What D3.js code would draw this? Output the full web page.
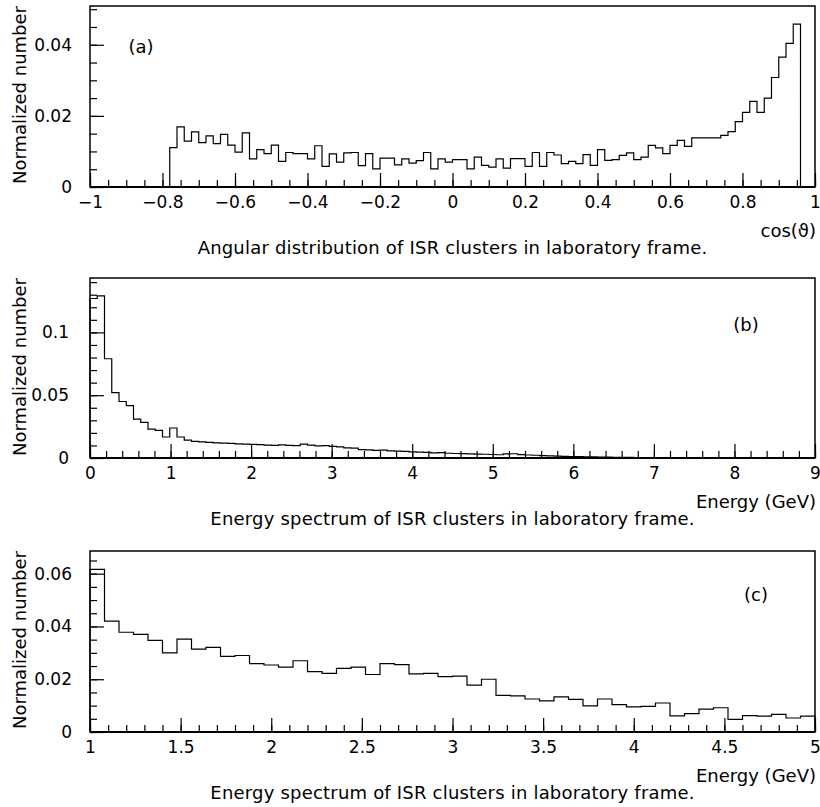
<!DOCTYPE html>
<html>
<head>
<meta charset="utf-8">
<script src="https://cdn.jsdelivr.net/npm/d3@7"></script>
<style>
  body { margin: 0; background: #fff; }
  svg text { font-family: "DejaVu Sans", sans-serif; fill: #000; }
</style>
</head>
<body>
<svg id="chart" width="820" height="807"></svg>
<script>
// (a) angular distribution, bins of 0.02 starting at -0.78
const aBinStart = -0.78, aBinWidth = 0.02;
const aValues = [
  0.0111, 0.0169, 0.0129, 0.0155, 0.0125, 0.0144, 0.0122, 0.0148, 0.0118, 0.0098,
  0.0152, 0.0079, 0.0105, 0.0094, 0.0118, 0.0072, 0.0097, 0.0094, 0.0094, 0.0079,
  0.0116, 0.0058, 0.0093, 0.0070,
  0.0096, 0.0097, 0.0060, 0.0094, 0.0051, 0.0081, 0.0081, 0.0062, 0.0079, 0.0067,
  0.0074, 0.0097, 0.0051, 0.0079, 0.0070, 0.0077, 0.0077, 0.0051, 0.0084, 0.0061,
  0.0056, 0.0079, 0.0053, 0.0080, 0.0080, 0.0058, 0.0097, 0.0058, 0.0097, 0.0090,
  0.0066, 0.0072, 0.0066,
  0.0091, 0.0061, 0.0105, 0.0075, 0.0077, 0.0089, 0.0096, 0.0077, 0.0084, 0.0117,
  0.0110, 0.0094, 0.0117, 0.0131, 0.0114, 0.0138, 0.0138, 0.0138, 0.0138, 0.0145,
  0.0156, 0.0184, 0.0210, 0.0241, 0.0210, 0.0250, 0.0308, 0.0365, 0.0404, 0.0458
];
const aXTicks = [-1, -0.8, -0.6, -0.4, -0.2, 0, 0.2, 0.4, 0.6, 0.8, 1];
const aXLabels = ["\u22121", "\u22120.8", "\u22120.6", "\u22120.4", "\u22120.2", "0", "0.2", "0.4", "0.6", "0.8", "1"];
const aYTicks = [0, 0.02, 0.04];
const aYLabels = ["0", "0.02", "0.04"];

// (b) energy spectrum 0-9 GeV, bins of 0.09
const bBinStart = 0, bBinWidth = 0.09;
const bValues = [
  0.1270, 0.1290, 0.0790, 0.0520, 0.0450, 0.0417, 0.0310, 0.0284, 0.0230, 0.0220,
  0.0167, 0.0239, 0.0167, 0.0142, 0.0133, 0.0128, 0.0124, 0.0121, 0.0119, 0.0116,
  0.0113, 0.0110, 0.0108, 0.0106, 0.0103, 0.0101, 0.0104, 0.0100, 0.0098, 0.0110,
  0.0103, 0.0097, 0.0098, 0.0093, 0.0089, 0.0080, 0.0079, 0.0066, 0.0064, 0.0061,
  0.0063, 0.0056, 0.0055, 0.0052, 0.0049, 0.0047, 0.0044, 0.0041, 0.0042, 0.0038,
  0.0036, 0.0035, 0.0033, 0.0031, 0.0030, 0.0028, 0.0026, 0.0033, 0.0034, 0.0027,
  0.0024, 0.0022, 0.0019, 0.0017, 0.0015, 0.0013, 0.0012, 0.0011, 0.0010, 0.0010,
  0.0008, 0.0007, 0.0006, 0.0005, 0.0005, 0.0004, 0.0004, 0.0003, 0.0003, 0.0002,
  0.0002, 0.0002, 0.0001, 0.0001, 0.0001, 0.0001, 0.0001, 0.0001, 0.0001, 0.0000,
  0.0000, 0.0000, 0.0000, 0.0000, 0.0000, 0.0000, 0.0000, 0.0000, 0.0000, 0.0000
];
const bXTicks = [0, 1, 2, 3, 4, 5, 6, 7, 8, 9];
const bXLabels = ["0", "1", "2", "3", "4", "5", "6", "7", "8", "9"];
const bYTicks = [0, 0.05, 0.1];
const bYLabels = ["0", "0.05", "0.1"];

// (c) energy spectrum 1-5 GeV, bins of 0.08
const cBinStart = 1, cBinWidth = 0.08;
const cValues = [
  0.0616, 0.0420, 0.0378, 0.0370, 0.0347, 0.0300, 0.0352, 0.0314, 0.0321, 0.0287,
  0.0290, 0.0259, 0.0254, 0.0246, 0.0270, 0.0229, 0.0222, 0.0241, 0.0246, 0.0218,
  0.0259, 0.0255, 0.0220, 0.0222, 0.0210, 0.0212, 0.0178, 0.0200, 0.0139, 0.0137,
  0.0125, 0.0118, 0.0133, 0.0124, 0.0099, 0.0125, 0.0104, 0.0095, 0.0097, 0.0110,
  0.0061, 0.0070, 0.0087, 0.0092, 0.0048, 0.0062, 0.0060, 0.0067, 0.0053, 0.0060
];
const cXTicks = [1, 1.5, 2, 2.5, 3, 3.5, 4, 4.5, 5];
const cXLabels = ["1", "1.5", "2", "2.5", "3", "3.5", "4", "4.5", "5"];
const cYTicks = [0, 0.02, 0.04, 0.06];
const cYLabels = ["0", "0.02", "0.04", "0.06"];

const panels = [
  { tag: "(a)", tagX: 141, tagY: 53, start: aBinStart, width: aBinWidth, values: aValues,
    xDomain: [-1, 1], yDomain: [0, 0.0509], top: 6, bottom: 187,
    xTicks: aXTicks, xLabels: aXLabels, xMinor: 0.05, yTicks: aYTicks, yLabels: aYLabels, yMinor: 0.005,
    yLabelPad: 18, xTitle: "cos(\u03d1)",
    caption: "Angular distribution of ISR clusters in laboratory frame." },
  { tag: "(b)", tagX: 746, tagY: 331, start: bBinStart, width: bBinWidth, values: bValues,
    xDomain: [0, 9], yDomain: [0, 0.1433], top: 278, bottom: 458,
    xTicks: bXTicks, xLabels: bXLabels, xMinor: 0.2, yTicks: bYTicks, yLabels: bYLabels, yMinor: 0.01,
    yLabelPad: 21, xTitle: "Energy (GeV)",
    caption: "Energy spectrum of ISR clusters in laboratory frame." },
  { tag: "(c)", tagX: 756, tagY: 601, start: cBinStart, width: cBinWidth, values: cValues,
    xDomain: [1, 5], yDomain: [0, 0.0686], top: 551, bottom: 732,
    xTicks: cXTicks, xLabels: cXLabels, xMinor: 0.1, yTicks: cYTicks, yLabels: cYLabels, yMinor: 0.005,
    yLabelPad: 18, xTitle: "Energy (GeV)",
    caption: "Energy spectrum of ISR clusters in laboratory frame." }
];

const left = 90, right = 815;
const svg = d3.select("#chart");
const fs = 17;

panels.forEach(p => {
  const x = d3.scaleLinear().domain(p.xDomain).range([left, right]);
  const y = d3.scaleLinear().domain(p.yDomain).range([p.bottom, p.top]);
  const g = svg.append("g");

  // minor ticks
  const nx = Math.round((p.xDomain[1] - p.xDomain[0]) / p.xMinor);
  const xMinor = d3.range(nx + 1).map(i => p.xDomain[0] + i * p.xMinor);
  const ny = Math.floor((p.yDomain[1] - p.yDomain[0]) / p.yMinor);
  const yMinor = d3.range(ny + 1).map(i => i * p.yMinor);

  g.append("g")
    .attr("transform", `translate(0,${p.bottom})`)
    .call(d3.axisBottom(x).tickValues(xMinor).tickSize(-7).tickSizeOuter(0).tickFormat(""));
  g.append("g")
    .attr("transform", `translate(${left},0)`)
    .call(d3.axisLeft(y).tickValues(yMinor).tickSize(-7).tickSizeOuter(0).tickFormat(""));

  // major ticks + labels
  g.append("g")
    .attr("transform", `translate(0,${p.bottom})`)
    .call(d3.axisBottom(x).tickValues(p.xTicks).tickSize(-14).tickSizeOuter(0).tickPadding(9)
      .tickFormat((d, i) => p.xLabels[i]));
  g.append("g")
    .attr("transform", `translate(${left},0)`)
    .call(d3.axisLeft(y).tickValues(p.yTicks).tickSize(-14).tickSizeOuter(0).tickPadding(p.yLabelPad)
      .tickFormat((d, i) => p.yLabels[i]));

  g.selectAll(".domain").remove();
  g.selectAll(".tick line").attr("stroke", "#000").attr("stroke-width", 1.2);
  g.selectAll(".tick text").attr("font-size", fs).attr("font-family", "DejaVu Sans").attr("fill", "#000");

  // histogram step line
  const pts = [[p.start, 0]];
  p.values.forEach((v, i) => pts.push([p.start + i * p.width, v]));
  const end = p.start + p.values.length * p.width;
  pts.push([end, p.values[p.values.length - 1]]);
  pts.push([end, 0]);
  const line = d3.line().x(d => x(d[0])).y(d => y(d[1])).curve(d3.curveStepAfter);
  g.append("path")
    .attr("d", line(pts))
    .attr("fill", "none")
    .attr("stroke", "#000")
    .attr("stroke-width", 1.2);

  // frame
  g.append("rect")
    .attr("x", left).attr("y", p.top)
    .attr("width", right - left).attr("height", p.bottom - p.top)
    .attr("fill", "none").attr("stroke", "#000").attr("stroke-width", 1.5);
  g.append("line")
    .attr("x1", left).attr("x2", right).attr("y1", p.bottom).attr("y2", p.bottom)
    .attr("stroke", "#000").attr("stroke-width", 2);

  // texts
  g.append("text")
    .attr("transform", `translate(26,${p.top}) rotate(-90)`)
    .attr("text-anchor", "end")
    .attr("font-size", 18)
    .text("Normalized number");
  g.append("text")
    .attr("x", p.tagX).attr("y", p.tagY)
    .attr("text-anchor", "middle")
    .attr("font-size", 18)
    .text(p.tag);
  g.append("text")
    .attr("x", right + 1).attr("y", p.bottom + 50)
    .attr("text-anchor", "end")
    .attr("font-size", 18)
    .text(p.xTitle);
  g.append("text")
    .attr("x", (left + right) / 2).attr("y", p.bottom + 67)
    .attr("text-anchor", "middle")
    .attr("font-size", 18)
    .attr("letter-spacing", 0.2)
    .text(p.caption);
});
</script>
</body>
</html>
